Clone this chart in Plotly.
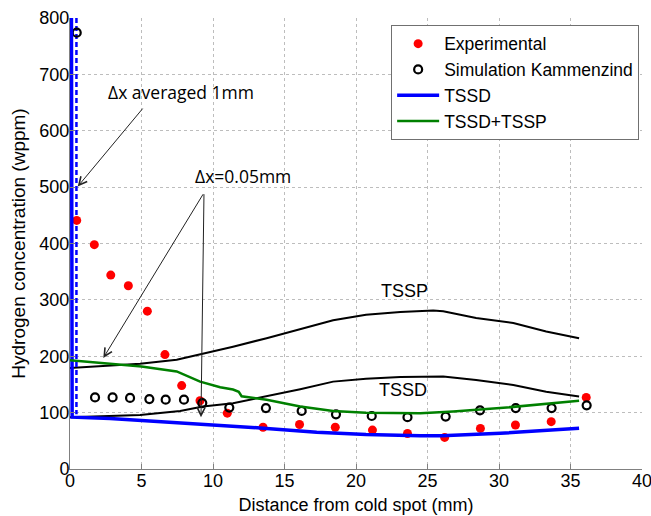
import plotly.graph_objects as go

# ---- data ----
x_exp = [0.47, 1.7, 2.85, 4.08, 5.41, 6.64, 7.81, 9.09, 11.0, 13.5, 16.05, 18.55, 21.15, 23.6, 26.2, 28.7, 31.15, 33.65, 36.1]
y_exp = [441, 398, 344, 325, 280, 203, 148, 121, 99, 74, 79, 74, 69, 63, 56, 72, 78, 84, 127]

x_sim = [0.47, 1.75, 2.98, 4.2, 5.55, 6.69, 7.97, 9.25, 11.14, 13.7, 16.2, 18.6, 21.1, 23.6, 26.27, 28.67, 31.17, 33.68, 36.13]
y_sim = [774, 127, 127, 126, 124, 123, 123, 117, 109, 108, 103, 97, 94, 92, 93, 104, 108, 108, 113]

x_tssd = [0.1, 0.15, 2.8, 6.3, 9.1, 13.75, 17.25, 20.7, 24.5, 26.0, 30.1, 35.6]
y_tssd = [800, 92, 89.5, 84, 80, 72, 65, 61, 59, 59, 63.4, 72.3]

x_tssd_tssp = [0, 2.1, 5.0, 7.46, 9.1, 10.5, 11.4, 11.8, 12.0, 13.75, 16.1, 18.4, 20.7, 24.5, 26.8, 30.07, 35.6]
y_tssd_tssp = [193, 188, 182, 173, 155, 145, 141, 137, 129, 123, 111, 103, 100, 99, 102, 108, 121]

x_tssp_curve = [0, 4.9, 7.46, 9.3, 11.4, 13.75, 16.1, 18.4, 20.7, 23.1, 25.4, 26.1, 28.4, 31.0, 33.3, 35.6]
y_tssp_curve = [179, 186.7, 193.8, 204.4, 217, 232, 248, 263.7, 273.8, 278.5, 281, 279.7, 267.8, 259, 244, 232]

x_tssd_curve = [0, 4.9, 7.7, 9.3, 11.4, 13.75, 16.1, 18.4, 20.7, 23.1, 25.4, 26.1, 28.4, 31.0, 33.3, 35.6]
y_tssd_curve = [92, 96, 103, 110.8, 116.7, 128.6, 141.6, 155, 160, 163, 164, 164, 158, 149, 137, 128.6]

x_avg = [0.45, 0.45]
y_avg = [800, 97]

x_ticks = [0, 5, 10, 15, 20, 25, 30, 35, 40]
y_ticks = [0, 100, 200, 300, 400, 500, 600, 700, 800]

FONT = "Liberation Sans, Arial, sans-serif"
ANN_FONT = "Open Sans, Noto Sans, sans-serif"

fig = go.Figure()

fig.add_trace(go.Scatter(x=x_tssp_curve, y=y_tssp_curve, mode="lines",
                         line=dict(color="black", width=2), showlegend=False))
fig.add_trace(go.Scatter(x=x_tssd_curve, y=y_tssd_curve, mode="lines",
                         line=dict(color="black", width=2), showlegend=False))
fig.add_trace(go.Scatter(x=x_avg, y=y_avg, mode="lines",
                         line=dict(color="#0000FF", width=2.5, dash="5px,3px"), showlegend=False))

fig.add_trace(go.Scatter(x=x_exp, y=y_exp, mode="markers", name="Experimental",
                         marker=dict(color="#FF0000", size=9, symbol="circle")))
fig.add_trace(go.Scatter(x=x_sim, y=y_sim, mode="markers", name="Simulation Kammenzind",
                         marker=dict(color="black", size=8, symbol="circle-open",
                                     line=dict(color="black", width=2.2))))
fig.add_trace(go.Scatter(x=x_tssd, y=y_tssd, mode="lines", name="TSSD",
                         line=dict(color="#0000FF", width=3.5)))
fig.add_trace(go.Scatter(x=x_tssd_tssp, y=y_tssd_tssp, mode="lines", name="TSSD+TSSP",
                         line=dict(color="#008000", width=2.5)))

# text labels
fig.add_annotation(x=7.76, y=668, text="Δx averaged 1mm", showarrow=False,
                   font=dict(family=ANN_FONT, size=17.5, color="black"))
fig.add_annotation(x=12.13, y=519, text="Δx=0.05mm", showarrow=False,
                   font=dict(family=ANN_FONT, size=17.5, color="black"))
fig.add_annotation(x=23.36, y=315, text="TSSP", showarrow=False,
                   font=dict(family=FONT, size=18, color="black"))
fig.add_annotation(x=23.3, y=140, text="TSSD", showarrow=False,
                   font=dict(family=FONT, size=18, color="black"))

# arrows (tip, tail) in data coordinates
arrows = [((0.54, 501), (5.17, 642)),
          ((2.33, 197), (9.37, 490)),
          ((9.16, 92), (9.37, 490))]
for (tx, ty), (sx, sy) in arrows:
    fig.add_annotation(x=tx, y=ty, ax=sx, ay=sy, xref="x", yref="y", axref="x", ayref="y",
                       text="", showarrow=True, arrowhead=5, arrowsize=1.6, arrowwidth=1,
                       arrowcolor="#222")

axis_common = dict(showgrid=True, gridcolor="#bdbdbd", griddash="dot", gridwidth=1,
                   showline=True, linecolor="#808080", linewidth=1,
                   ticks="inside", ticklen=5, tickcolor="#808080",
                   tickfont=dict(family=FONT, size=18, color="black"),
                   ticklabeloverflow="allow",
                   zeroline=False, automargin=False)

fig.update_xaxes(range=[0, 40], tickvals=x_ticks, ticktext=[str(v) for v in x_ticks],
                 ticklabelstandoff=-5,
                 title=dict(text="Distance from cold spot (mm)", font=dict(family=FONT, size=18, color="black"),
                            standoff=8),
                 **axis_common)
fig.update_yaxes(range=[0, 800], tickvals=y_ticks, ticktext=[str(v) for v in y_ticks],
                 ticklabelstandoff=-4,
                 title=dict(text="Hydrogen concentration (wppm)", font=dict(family=FONT, size=19, color="black"),
                            standoff=8),
                 **axis_common)

fig.update_layout(
    width=651, height=516,
    margin=dict(l=70, r=9, t=18, b=47),
    paper_bgcolor="white", plot_bgcolor="white",
    font=dict(family=FONT, size=18, color="black"),
    showlegend=True,
    legend=dict(x=0.995, y=0.985, xanchor="right", yanchor="top",
                bgcolor="white", bordercolor="#707070", borderwidth=1,
                font=dict(family=FONT, size=17.5, color="black"),
                tracegroupgap=0, itemwidth=42),
)

# remove the browser's default 8px body margin so the figure fills the window exactly
fig.write_html("out.html",
               config={"displayModeBar": False},
               post_script="document.body.style.margin='0';document.body.style.overflow='hidden';")
